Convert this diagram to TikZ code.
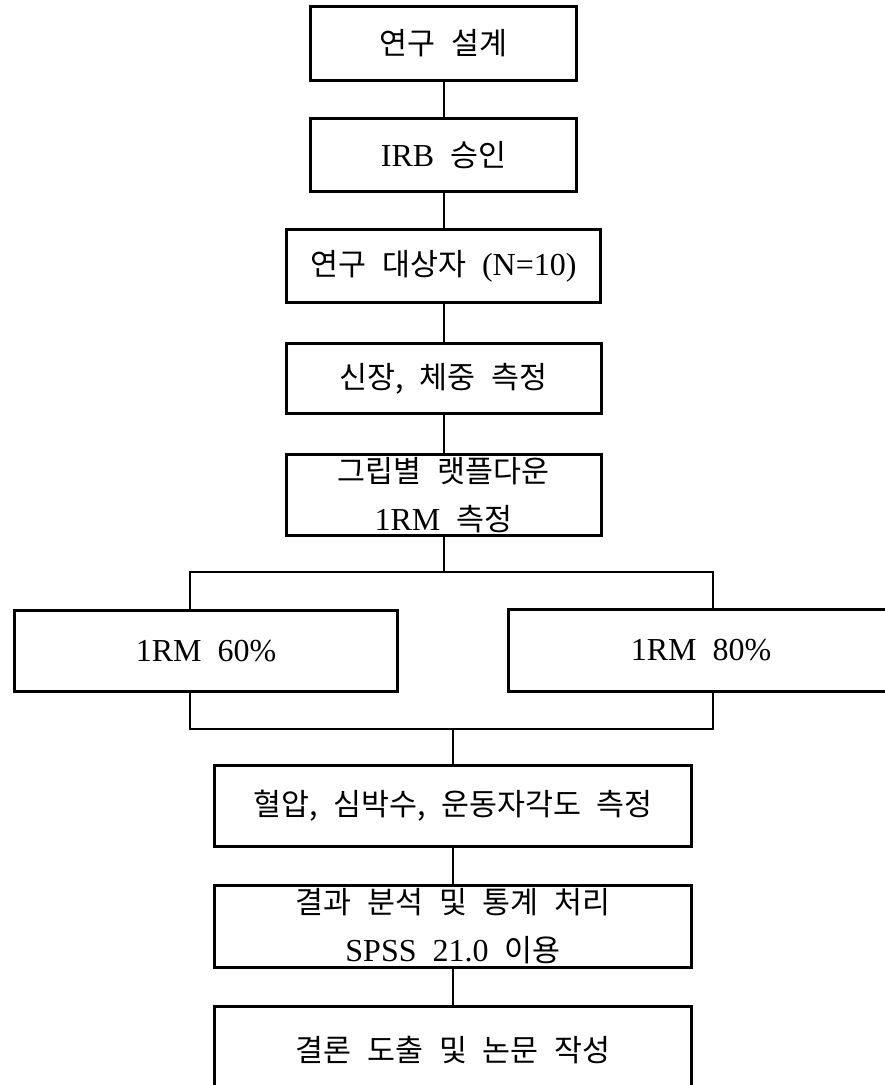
\documentclass[tikz,border=0pt]{standalone}
\usepackage{fontspec}
\setmainfont{Liberation Serif}[WordSpace=2]
\newfontfamily\kr{Noto Sans CJK KR}[Scale=0.95,WordSpace=2.3]
\usepackage{tikz}
\usetikzlibrary{positioning}
\tikzset{
  stepbox/.style={rectangle, draw=black, line width=1.5pt, fill=white, text centered, align=center, inner sep=0pt, font=\fontsize{16}{24}\selectfont},
  link/.style={line width=1pt}
}

\begin{document}
\begin{tikzpicture}[x=0.5pt, y=0.5pt, node distance=17.5pt]
            \useasboundingbox (0,0) rectangle (884,-1085);

            \node (design) [stepbox, minimum width=133pt, minimum height=37pt] at (443.5,-43.5) {{\kr 연구 설계}};
            \node (irb) [stepbox, below=of design, minimum width=133pt, minimum height=36.5pt] {IRB {\kr 승인}};
            \node (subj) [stepbox, below=of irb, minimum width=157pt, minimum height=36.5pt] {{\kr 연구 대상자} (N=10)};
            \node (body) [stepbox, below=19pt of subj, minimum width=157.5pt, minimum height=35pt] {{\kr 신장, 체중 측정}};
            \node (lpd) [stepbox, below=19pt of body, minimum width=157.5pt, minimum height=40.5pt] {{\kr 그립별 랫플다운}\\1RM {\kr 측정}};

            % 강도별 그룹
            \node (r60) [stepbox, minimum width=191.5pt, minimum height=40.5pt] at (206,-651) {1RM 60\%};
            \node (r80) [stepbox, minimum width=192.5pt, minimum height=41pt] at (701,-650.5) {1RM 80\%};

            \node (vital) [stepbox, minimum width=238.5pt, minimum height=40.5pt] at (453,-806) {{\kr 혈압, 심박수, 운동자각도 측정}};
            \node (stat) [stepbox, below=18pt of vital, minimum width=238.5pt, minimum height=41pt] {{\kr 결과 분석 및 통계 처리}\\SPSS 21.0 {\kr 이용}};
            \node (concl) [stepbox, below=18pt of stat, minimum width=238.5pt, minimum height=44pt] {{\kr 결론 도출 및 논문 작성}};

            \coordinate (splitL) at (190,-572);
            \coordinate (splitR) at (713,-572);
            \coordinate (joinL) at (190,-729);
            \coordinate (joinR) at (713,-729);

            % 위쪽 흐름
            \draw [link] (design) -- (irb);
            \draw [link] (irb) -- (subj);
            \draw [link] (subj) -- (body);
            \draw [link] (body) -- (lpd);

            % 분기
            \draw [link] (lpd) -- (lpd |- splitL);
            \draw [link] (splitL |- r60.north) -- (splitL) -- (splitR) -- (splitR |- r80.north);

            % 합류
            \draw [link] (joinL |- r60.south) -- (joinL) -- (joinR) -- (joinR |- r80.south);
            \draw [link] (vital.north |- joinL) -- (vital);

            % 아래쪽 흐름
            \draw [link] (vital) -- (stat);
            \draw [link] (stat) -- (concl);

        \end{tikzpicture}
\end{document}
